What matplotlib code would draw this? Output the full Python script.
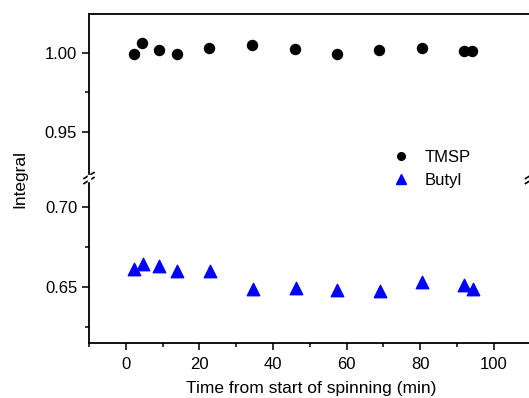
import matplotlib
matplotlib.use("Agg")
import matplotlib.pyplot as plt
from matplotlib.lines import Line2D

plt.rcParams['font.family'] = ['Liberation Sans', 'DejaVu Sans']

# data
tmsp_time = [2.1, 4.5, 9.1, 13.9, 22.7, 34.3, 46.0, 57.4, 68.8, 80.4, 91.9, 94.2]
tmsp_val = [0.9994, 1.0064, 1.0023, 0.9997, 1.0036, 1.0051, 1.0025, 0.9997, 1.0023, 1.0032, 1.0015, 1.0015]
butyl_time = [2.3, 4.6, 9.1, 14.0, 22.9, 34.5, 46.2, 57.5, 69.1, 80.6, 91.9, 94.4]
butyl_val = [0.6613, 0.6646, 0.6629, 0.6598, 0.6598, 0.6488, 0.6494, 0.6481, 0.6477, 0.6531, 0.6510, 0.6488]

W, H = 529, 398
fig = plt.figure(figsize=(W / 100, H / 100), dpi=100)

left, right = 89 / W, 530.5 / W
top_y, brk_y, bot_y = 14, 178, 343
ax_top = fig.add_axes([left, 1 - brk_y / H, right - left, (brk_y - top_y) / H])
ax_bot = fig.add_axes([left, 1 - bot_y / H, right - left, (bot_y - brk_y) / H])

ax_top.scatter(tmsp_time, tmsp_val, marker='o', s=52, color='black', zorder=3)
ax_bot.scatter(butyl_time, butyl_val, marker='^', s=80, color='#0000ff', zorder=3)

for ax in (ax_top, ax_bot):
    ax.set_xlim(-10, 110)
    for sp in ax.spines.values():
        sp.set_linewidth(1.3)
    ax.tick_params(direction='out', width=1.3, length=5, labelsize=12, color='#222222')
    ax.tick_params(which='minor', direction='out', width=1.1, length=3)
    ax.set_xticks(range(0, 101, 20))
    ax.set_xticks(range(-10, 111, 10), minor=True)

ax_top.set_ylim(0.9204, 1.025)
ax_top.set_yticks([0.95, 1.00])
ax_top.set_yticklabels(['0.95', '1.00'])
ax_top.set_yticks([0.975], minor=True)
ax_top.spines['bottom'].set_visible(False)
ax_top.tick_params(axis='x', which='both', bottom=False, labelbottom=False)

ax_bot.set_ylim(0.615, 0.7181)
ax_bot.set_yticks([0.65, 0.70])
ax_bot.set_yticklabels(['0.65', '0.70'])
ax_bot.set_yticks([0.625, 0.675], minor=True)
ax_bot.spines['top'].set_visible(False)
ax_bot.tick_params(axis='x', pad=5)

# break marks on the left and right spines
for xpix in (89, 530.5):
    for dy in (-2.5, 2.5):
        x0, x1 = (xpix - 5) / W, (xpix + 5) / W
        y0, y1 = 1 - (brk_y + dy + 3) / H, 1 - (brk_y + dy - 3) / H
        fig.add_artist(Line2D([x0, x1], [y0, y1], color='black', lw=1.2))
    fig.add_artist(Line2D([xpix / W, xpix / W], [1 - (brk_y + 2) / H, 1 - (brk_y - 2) / H],
                          color='white', lw=2.5))

handles = [
    Line2D([], [], marker='o', ls='none', color='black', markersize=5.5, label='TMSP'),
    Line2D([], [], marker='^', ls='none', color='#0000ff', markersize=7, label='Butyl'),
]
fig.legend(handles=handles, loc='center left', bbox_to_anchor=(377.7 / W, 1 - 168.7 / H),
           frameon=False, fontsize=12, handlelength=1.0, handletextpad=0.9, labelspacing=0.5)

fig.text(19.5 / W, 1 - 178.5 / H, 'Integral', rotation=90, ha='center', va='center', fontsize=12.5)
fig.text(311.5 / W, 1 - 389 / H, 'Time from start of spinning (min)', ha='center', va='center',
         fontsize=12.5)

fig.savefig('out.png', dpi=100)
